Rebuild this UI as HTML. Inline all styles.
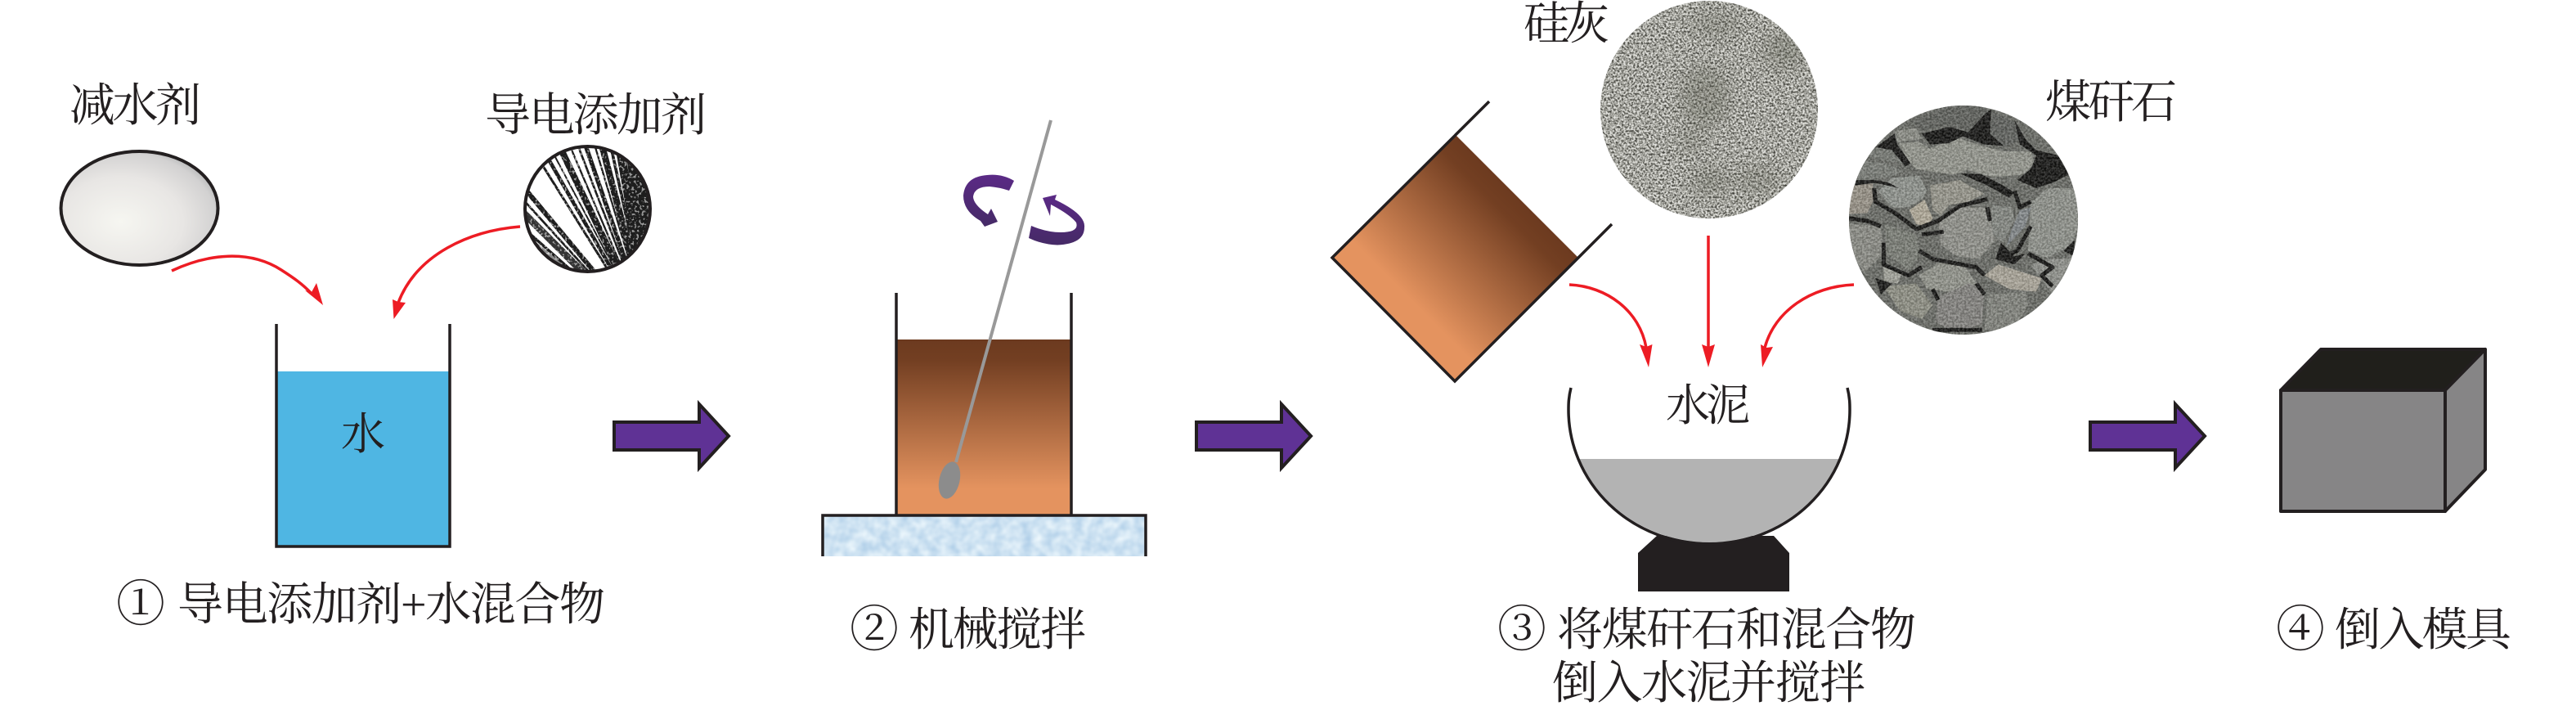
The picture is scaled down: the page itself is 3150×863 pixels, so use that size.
<!DOCTYPE html>
<html lang="zh">
<head>
<meta charset="utf-8">
<title>工艺流程</title>
<style>
html,body{margin:0;padding:0;background:#fff;width:3150px;height:863px;overflow:hidden}
svg{display:block}
text{font-family:"Liberation Serif","Noto Serif CJK SC",serif;font-size:56px;fill:#231f20}
.n{font-size:60px}
</style>
</head>
<body>
<svg xmlns="http://www.w3.org/2000/svg" width="3150" height="863" viewBox="0 0 3150 863">
<defs>
  <linearGradient id="mud" gradientUnits="userSpaceOnUse" x1="0" y1="415" x2="0" y2="629">
    <stop offset="0" stop-color="#6c3a1f"/><stop offset=".12" stop-color="#733f22"/><stop offset=".85" stop-color="#e4935f"/><stop offset="1" stop-color="#e4935f"/>
  </linearGradient>
  <linearGradient id="mud2" gradientUnits="userSpaceOnUse" x1="1855" y1="240" x2="1704" y2="390">
    <stop offset="0" stop-color="#6c3a1f"/><stop offset=".12" stop-color="#733f22"/><stop offset=".85" stop-color="#e4935f"/><stop offset="1" stop-color="#e4935f"/>
  </linearGradient>
  <linearGradient id="pur" x1="0" y1="0" x2="0" y2="1">
    <stop offset="0" stop-color="#5b2a86"/><stop offset="1" stop-color="#452a66"/>
  </linearGradient>
  <radialGradient id="egg" cx=".38" cy=".62" r=".72">
    <stop offset="0" stop-color="#f6f6f1"/><stop offset=".55" stop-color="#e8e6e4"/><stop offset=".85" stop-color="#d2d1d1"/><stop offset="1" stop-color="#a4a7a8"/>
  </radialGradient>
  <filter id="grain" x="0" y="0" width="100%" height="100%" color-interpolation-filters="sRGB">
    <feTurbulence type="fractalNoise" baseFrequency=".42" numOctaves="2" seed="7"/>
    <feColorMatrix values="2.3 0 0 0 -.52  2.3 0 0 0 -.52  2.3 0 0 0 -.54  0 0 0 0 1"/>
  </filter>
  <filter id="speck" x="0" y="0" width="100%" height="100%" color-interpolation-filters="sRGB">
    <feTurbulence type="fractalNoise" baseFrequency=".33" numOctaves="2" seed="3"/>
    <feColorMatrix values="0 0 0 0 1  0 0 0 0 1  0 0 0 0 1  9 0 0 0 -5"/>
  </filter>
  <filter id="coalg" x="0" y="0" width="100%" height="100%" color-interpolation-filters="sRGB">
    <feTurbulence type="fractalNoise" baseFrequency=".4" numOctaves="2" seed="11"/>
    <feColorMatrix values="2.4 0 0 0 -.7  2.4 0 0 0 -.7  2.4 0 0 0 -.7  0 0 0 0 .2"/>
  </filter>
  <filter id="ice" x="0" y="0" width="100%" height="100%" color-interpolation-filters="sRGB">
    <feTurbulence type="fractalNoise" baseFrequency=".08" numOctaves="2" seed="5"/>
    <feColorMatrix values=".3 0 0 0 .66  .2 0 0 0 .79  .1 0 0 0 .9  0 0 0 0 1"/>
  </filter>
  <filter id="blur12"><feGaussianBlur stdDeviation="11"/></filter>
  <clipPath id="cs"><circle cx="2090" cy="134" r="133"/></clipPath>
  <clipPath id="cc"><circle cx="2401" cy="269" r="140"/></clipPath>
  <clipPath id="cf"><circle cx="718.5" cy="255.5" r="76"/></clipPath>
  <clipPath id="bowlclip"><path d="M1918 561H2262V680H1918Z"/></clipPath>
</defs>

<!-- step 1 -->
<text x="85" y="148" textLength="161" lengthAdjust="spacing">减水剂</text>
<text x="593" y="160" textLength="271" lengthAdjust="spacing">导电添加剂</text>
<ellipse cx="170.5" cy="254.5" rx="96" ry="69.5" fill="url(#egg)" stroke="#231f20" stroke-width="4"/>

<g clip-path="url(#cf)">
  <rect x="640" y="178" width="156" height="156" fill="#fff"/>
  <g transform="translate(630 170) scale(.3333)" fill="none" stroke="#1d1d1d">
    <path stroke-width="36" stroke="#8a8a8a" d="M510 750L0 340"/>
    <path stroke-width="18" d="M510 750L0 140"/>
    <path stroke-width="8" d="M510 750L0 190"/>
    <path stroke-width="26" stroke="#333" d="M510 750L0 240"/>
    <path stroke-width="10" d="M510 750L0 300"/>
    <path stroke-width="30" stroke="#444" d="M510 750L0 370"/>
    <path stroke-width="14" d="M510 750L0 430"/>
    <path stroke-width="18" d="M510 750L0 480"/>
    <path stroke-width="10" d="M510 750L0 530"/>
    <path stroke-width="9" d="M510 750L40 0"/>
    <path stroke-width="14" d="M510 750L80 0"/>
    <path stroke-width="6" d="M510 750L112 0"/>
    <path stroke-width="24" d="M510 750L150 0"/>
    <path stroke-width="7" d="M510 750L190 0"/>
    <path stroke-width="8" d="M510 750L221 0"/>
    <path stroke-width="16" d="M510 750L250 0"/>
    <path stroke-width="7" d="M510 750L285 0"/>
    <path stroke-width="24" d="M510 750L312 0"/>
    <path stroke-width="11" d="M510 750L345 0"/>
    <path stroke-width="32" d="M510 750L378 0"/>
    <path stroke-width="24" d="M510 750L412 0"/>
    <path stroke-width="30" d="M510 750L442 0"/>
    <path stroke-width="30" d="M510 750L478 0"/>
    <path stroke-width="34" d="M510 750L515 0"/>
    <path stroke-width="26" d="M510 750L548 0"/>
  </g>
  <rect x="640" y="178" width="156" height="156" filter="url(#speck)" opacity=".55"/>
</g>
<circle cx="718.5" cy="255.5" r="76.5" fill="none" stroke="#231f20" stroke-width="4"/>

<g fill="none" stroke="#ed1c24" stroke-width="3.5">
  <path d="M210 331C255 310 305 305 344 330C358 339 370 347 382 360"/>
  <path d="M636 277C575 282 510 310 487 370"/>
  <path d="M1919 348C1965 350 2005 380 2013 425"/>
  <path d="M2089 288V425"/>
  <path d="M2267 348C2215 350 2170 380 2158 425"/>
</g>
<g fill="#ed1c24">
  <polygon points="395,373 373,355 381,357 387,346"/>
  <polygon points="481.5,390 480,366 487,369 496,370"/>
  <polygon points="2016,449 2005,421 2013,424 2020.5,421"/>
  <polygon points="2089,449 2081,421 2089,424 2097,421"/>
  <polygon points="2155,449 2153,421 2160,425 2168,424"/>
</g>

<rect x="338" y="454" width="212" height="214" fill="#4fb6e3"/>
<path d="M338 396V668H550V396" fill="none" stroke="#231f20" stroke-width="3.5"/>
<text x="417" y="549" style="font-size:54px">水</text>
<text class="n" x="142" y="759">①</text>
<text x="217" y="758" textLength="523" lengthAdjust="spacing">导电添加剂+水混合物</text>

<!-- big arrows -->
<g fill="#5f3295" stroke="#231f20" stroke-width="4">
  <polygon points="751,516 855,516 855,494 891,533 855,572 855,550 751,550"/>
  <polygon points="1463,516 1567,516 1567,494 1603,533 1567,572 1567,550 1463,550"/>
  <polygon points="2556,516 2660,516 2660,494 2696,533 2660,572 2660,550 2556,550"/>
</g>

<!-- step 2 -->
<rect x="1097" y="415" width="212" height="214" fill="url(#mud)"/>
<path d="M1096 358V629M1310 358V629" fill="none" stroke="#231f20" stroke-width="3.5"/>
<rect x="1006" y="630" width="395" height="50" fill="#d3e5f5" filter="url(#ice)"/>
<path d="M1006 680V630H1401V680" fill="none" stroke="#231f20" stroke-width="3.5"/>
<line x1="1285" y1="147" x2="1169" y2="565" stroke="#999" stroke-width="4"/>
<ellipse cx="1161" cy="587" rx="12.5" ry="23" fill="#8c8c8c" transform="rotate(13 1161 587)"/>
<path fill="url(#pur)" d="M1240 221Q1225 212 1207 214Q1180 216 1178 239Q1178 258 1199 270L1204 277L1220 271L1212 255L1208 262Q1190 250 1190 240Q1192 228 1210 228Q1222 229 1234 233Z"/>
<path fill="url(#pur)" d="M1275 242L1292 238L1290 244Q1328 262 1326 278Q1326 298 1293 299.5Q1275 299 1258 291L1261 276Q1280 284 1297 284Q1320 284 1316 272Q1308 262 1285 250L1284 264Z"/>
<text class="n" x="1039" y="790">②</text>
<text x="1111" y="789" textLength="217" lengthAdjust="spacing">机械搅拌</text>

<!-- step 3 -->
<polygon points="1780,165 1930,315 1779,466 1629,315" fill="url(#mud2)"/>
<path d="M1821 124L1629 315L1779 466L1971 274" fill="none" stroke="#231f20" stroke-width="3.5"/>

<text x="1863" y="48" textLength="105" lengthAdjust="spacing">硅灰</text>
<g clip-path="url(#cs)">
  <rect x="1957" y="1" width="266" height="266" filter="url(#grain)"/>
  <rect x="1957" y="1" width="266" height="266" fill="#a8a9a0" opacity=".35"/>
  <g filter="url(#blur12)" fill="#5f6053" opacity=".35">
    <ellipse cx="2085" cy="118" rx="30" ry="38"/>
    <ellipse cx="2098" cy="30" rx="32" ry="12"/>
    <ellipse cx="2068" cy="172" rx="14" ry="14"/>
    <ellipse cx="2092" cy="222" rx="24" ry="16"/>
    <ellipse cx="2150" cy="220" rx="26" ry="14"/>
    <ellipse cx="2182" cy="62" rx="26" ry="22"/>
  </g>
</g>

<text x="2501" y="144" textLength="161" lengthAdjust="spacing">煤矸石</text>
<g clip-path="url(#cc)">
  <rect x="2260" y="128" width="282" height="282" fill="#6a6c66"/>
  <g transform="translate(2250 120) scale(.3333)">
    <polygon fill="#5f615c" points="260,85 350,50 400,20 520,20 550,50 530,100 470,120 390,100 300,120"/>
    <polygon fill="#5f615d" points="560,50 640,90 665,150 600,180 550,130"/>
    <polygon fill="#8e9088" points="200,120 280,110 300,150 210,160"/>
    <polygon fill="#777a74" points="90,210 130,170 210,130 205,190 240,240 160,228"/>
    <polygon fill="#979990" points="215,165 290,160 330,185 430,145 520,175 600,195 700,195 715,240 670,280 560,290 470,262 420,280 340,270 280,260 250,230"/>
    <polygon fill="#7b7e78" points="60,300 90,232 170,238 230,268 180,290 110,298"/>
    <polygon fill="#9a9488" points="25,400 50,320 120,312 125,370 100,422 25,425"/>
    <polygon fill="#929690" points="140,340 190,292 290,285 320,340 300,370 250,400 190,400"/>
    <polygon fill="#b5ae9c" points="255,410 310,372 340,440 320,470 280,462"/>
    <polygon fill="#9a998e" points="330,320 440,300 490,330 530,350 470,380 400,392 370,430 340,410"/>
    <polygon fill="#93948d" points="360,450 440,400 540,400 570,520 510,590 430,580 370,540"/>
    <polygon fill="#868983" points="555,390 630,400 640,440 600,530 560,500"/>
    <polygon fill="#92958e" points="700,385 760,330 880,330 880,450 850,540 760,585 690,560"/>
    <polygon fill="#858a8c" points="610,545 680,470 702,400 660,410 630,480"/>
    <polygon fill="#8d8e87" points="25,460 150,470 160,570 90,640 40,570"/>
    <polygon fill="#7c7f77" points="165,462 280,500 292,580 250,630 172,570"/>
    <polygon fill="#a5a69d" points="160,610 230,630 212,680 160,670"/>
    <polygon fill="#95978e" points="290,650 370,600 460,620 500,680 400,710 320,700"/>
    <polygon fill="#919286" points="160,690 280,680 340,760 300,810 220,780"/>
    <polygon fill="#868581" points="360,730 470,680 530,700 520,830 420,860 350,820"/>
    <polygon fill="#aea99c" points="530,650 580,610 740,660 720,710 620,700"/>
    <polygon fill="#83857e" points="540,720 680,710 690,760 640,845 530,850"/>
    <polygon fill="#92948e" points="700,610 760,590 880,585 840,680 780,720 730,650"/>
    <g fill="#121210">
      <polygon points="300,130 400,105 470,125 530,60 555,40 550,130 600,175 530,170 450,140 400,165 330,170"/>
      <polygon points="640,80 680,150 720,190 800,210 840,280 780,310 720,330 650,300 700,260 720,210 660,170"/>
      <polygon points="210,170 260,240 240,250 190,190 130,180 200,130"/>
      <polygon points="60,300 130,300 180,310 215,330 130,310 55,320"/>
      <polygon points="440,275 520,280 580,310 640,345 620,365 540,320 470,290"/>
      <polygon points="590,530 640,580 680,570 640,610 570,590"/>
      <polygon points="820,560 860,520 860,580"/>
      <polygon points="130,660 190,680 150,720"/>
    </g>
    <g fill="none" stroke="#121210" stroke-width="15" stroke-linejoin="round">
      <path d="M125 330L130 380L200 420L280 480L360 450L440 395L540 370"/>
      <path d="M300 500L380 490"/>
      <path d="M290 560L340 590L500 620L530 650"/>
      <path d="M160 530L160 610L250 650L300 620"/>
      <path d="M340 700L360 740"/>
      <path d="M640 340L660 400L700 380"/>
      <path d="M540 400L550 450"/>
      <path d="M30 440L100 450L150 470"/>
      <path d="M700 470L650 560L600 580"/>
      <path d="M690 570L780 620L740 650L780 690"/>
      <path d="M500 680L530 720"/>
      <path d="M520 850L340 850"/>
    </g>
  </g>
  <rect x="2260" y="128" width="282" height="282" filter="url(#coalg)"/>
</g>

<polygon points="2026,655 2169,655 2188,676 2188,723 2003,723 2003,676" fill="#231f20"/>
<ellipse cx="2090" cy="500" rx="171" ry="163" fill="#b3b3b3" clip-path="url(#bowlclip)"/>
<path d="M1921 474C1918 486 1918 494 1918 501A172 164 0 0 0 2262 501C2262 494 2262 486 2259 474" fill="none" stroke="#231f20" stroke-width="3.5"/>
<text x="2037" y="514" textLength="103" lengthAdjust="spacing" style="font-size:54px">水泥</text>
<text class="n" x="1831" y="790">③</text>
<text x="1904" y="789" textLength="439" lengthAdjust="spacing">将煤矸石和混合物</text>
<text x="1898" y="854" textLength="383" lengthAdjust="spacing">倒入水泥并搅拌</text>

<!-- step 4 -->
<polygon points="2789,477 2838,427 3039,427 2990,477" fill="#201f1b" stroke="#231f20" stroke-width="4" stroke-linejoin="round"/>
<polygon points="2990,477 3039,427 3039,574 2990,625" fill="#868586" stroke="#231f20" stroke-width="4" stroke-linejoin="round"/>
<rect x="2789" y="477" width="201" height="148" fill="#868586" stroke="#231f20" stroke-width="4" stroke-linejoin="round"/>
<text class="n" x="2783" y="790">④</text>
<text x="2855" y="789" textLength="216" lengthAdjust="spacing">倒入模具</text>
</svg>
</body>
</html>
